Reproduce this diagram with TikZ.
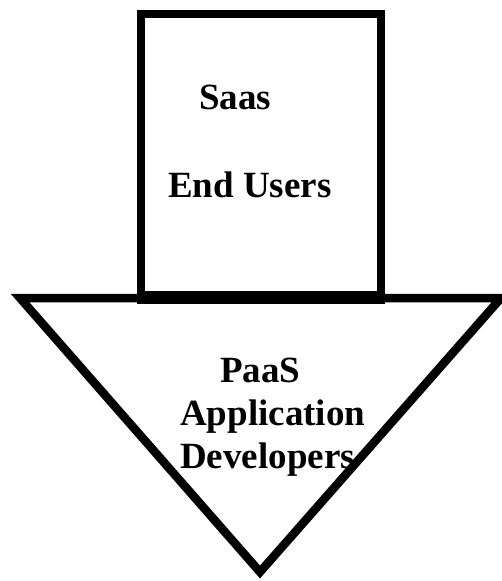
\documentclass[tikz,border=0pt]{standalone}
\usepackage{fontspec}
\setmainfont{Liberation Serif}
\begin{document}
\begin{tikzpicture}[x=1pt,y=-1pt,
  outline/.style={draw=black,line width=8.5pt},
  lbl/.style={font=\fontsize{37}{43}\selectfont\bfseries,inner sep=0pt,anchor=base west}]
\useasboundingbox (0,0) rectangle (501,581);
\fill[white] (0,0) rectangle (501,581);
% triangle
\coordinate (tl) at (20,298);
\coordinate (tr) at (501,298);
\coordinate (ap) at (260,572);
\draw[outline] (tl) -- (tr) -- (ap) -- cycle;
% rectangle
\node[outline,fill=white,minimum width=240pt,minimum height=281pt,inner sep=0pt] (box) at (261,154.5) {};
\draw[outline] (box.south west) -- (box.south east);
% labels
\node[lbl] (saas) at (199,109) {Saas};
\node[lbl] (end) at (168,197) {End Users};
\node[lbl] (paas) at (220,382) {PaaS};
\node[lbl] (app) at (180,425) {Application};
\node[lbl] (dev) at (180,468) {Developers};
\end{tikzpicture}
\end{document}
